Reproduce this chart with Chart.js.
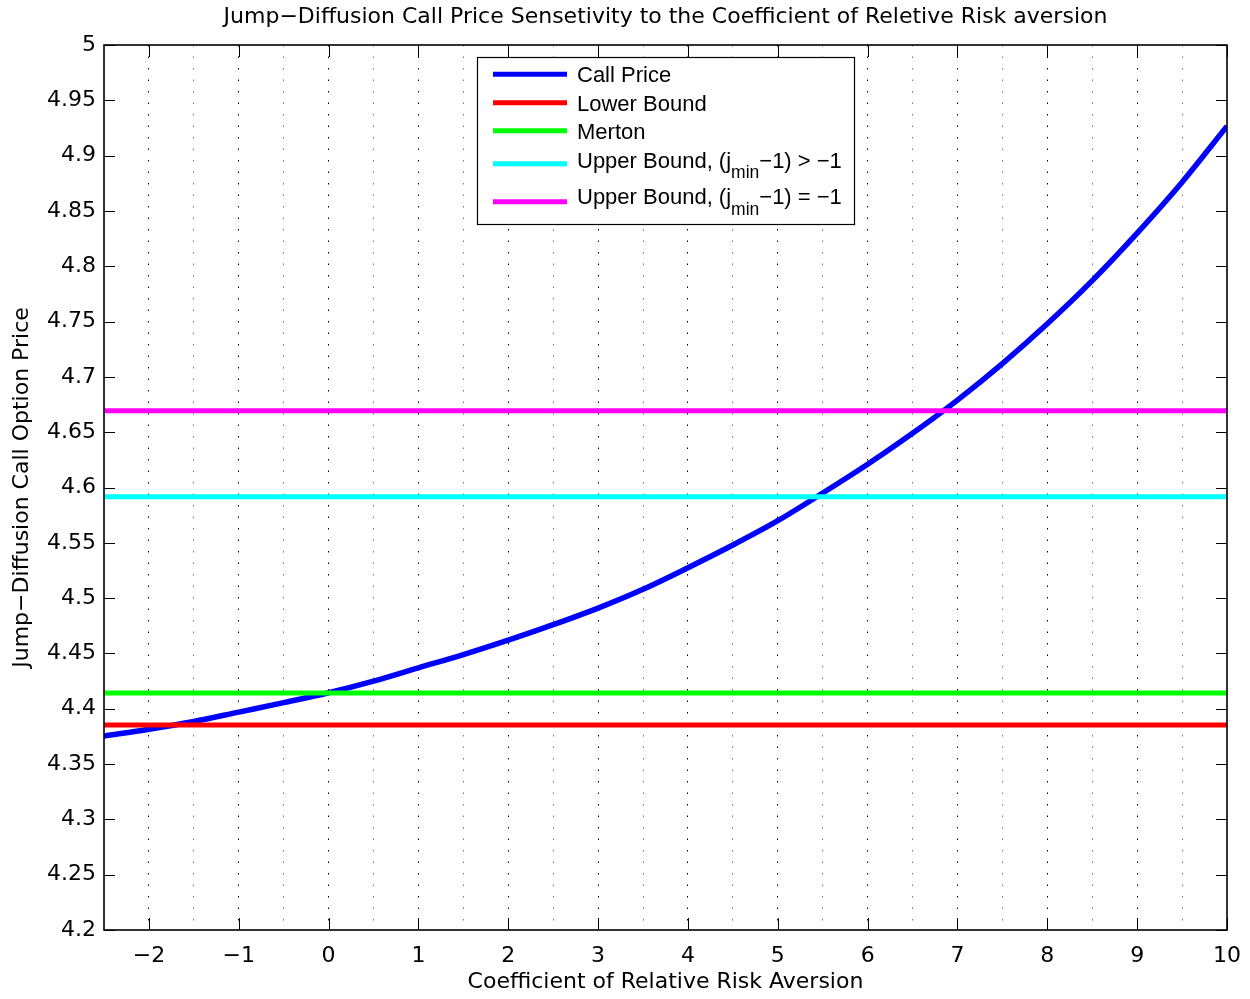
<!DOCTYPE html>
<html>
<head>
<meta charset="utf-8">
<script src="https://cdn.jsdelivr.net/npm/chart.js@4.4.1/dist/chart.umd.min.js"></script>
<style>
html,body{margin:0;padding:0;background:#fff;}
#wrap{width:1250px;height:999px;}
</style>
</head>
<body>
<div id="wrap"><canvas id="c" width="1250" height="999"></canvas></div>
<script>
// ---- data ----
const riskAversion = [-2.5,-2,-1.5,-1,-0.5,0,0.5,1,1.5,2,2.5,3,3.5,4,4.5,5,5.5,6,6.5,7,7.5,8,8.5,9,9.5,10];
const callPrice = [4.3753,4.3815,4.3885,4.3970,4.4055,4.4145,4.4250,4.4370,4.4490,4.4620,4.4760,4.4910,4.5080,4.5275,4.5480,4.5700,4.5950,4.6210,4.6490,4.6790,4.7120,4.7480,4.7870,4.8300,4.8760,4.9266];
const lowerBound = 4.3853;
const mertonPrice = 4.4142;
const upperBoundGt = 4.5916;
const upperBoundEq = 4.6693;
const xLimits = [-2.5, 10];
const yLimits = [4.2, 5];
const xStep = 0.5;
const yStep = 0.05;
const seriesNames = [
  ['Call Price'],
  ['Lower Bound'],
  ['Merton'],
  ['Upper Bound, (j', 'min', '\u22121) > \u22121'],
  ['Upper Bound, (j', 'min', '\u22121) = \u22121']
];
const seriesColors = ['#0000ff', '#ff0000', '#00ff00', '#00ffff', '#ff00ff'];
const titleText = 'Jump\u2212Diffusion Call Price Sensetivity to the Coefficient of Reletive Risk aversion';
const xTitle = 'Coefficient of Relative Risk Aversion';
const yTitle = 'Jump\u2212Diffusion Call Option Price';

const FONT = "'DejaVu Sans', 'Liberation Sans', sans-serif";
const LEGEND_FONT = "'Liberation Sans', Arial, sans-serif";
const fmt = v => String(+(+v).toFixed(2)).replace('-', '\u2212');

const flat = v => xLimits.map(x => ({x, y: v}));
const curve = riskAversion.map((x, i) => ({x, y: callPrice[i]}));
const flatValues = [lowerBound, mertonPrice, upperBoundGt, upperBoundEq];

const datasets = [
  {data: curve, borderColor: seriesColors[0], borderWidth: 5.5, order: 10, cubicInterpolationMode: 'monotone'},
  ...flatValues.map((v, i) => ({data: flat(v), borderColor: seriesColors[i + 1], borderWidth: 5, order: 5 - i}))
];
datasets.forEach((d, i) => { d.label = seriesNames[i].join(''); d.pointRadius = 0; d.fill = false; });

const matlabAxes = {
  id: 'matlabAxes',
  afterDatasetsDraw(chart) {
    const {ctx, chartArea: a, scales: {x, y}} = chart;
    ctx.save();
    ctx.strokeStyle = '#000';
    ctx.lineWidth = 1;
    const seg = (x1, y1, x2, y2) => { ctx.beginPath(); ctx.moveTo(x1, y1); ctx.lineTo(x2, y2); ctx.stroke(); };
    x.ticks.forEach(t => {
      if (!Number.isInteger(t.value)) return;
      const px = Math.round(x.getPixelForValue(t.value)) + 0.5;
      seg(px, a.bottom, px, a.bottom - 12);
      seg(px, a.top, px, a.top + 12);
    });
    y.ticks.forEach(t => {
      const py = Math.round(y.getPixelForValue(t.value)) + 0.5;
      seg(a.left, py, a.left + 11, py);
      seg(a.right, py, a.right - 11, py);
    });
    ctx.lineWidth = 1.6;
    ctx.strokeRect(a.left, a.top, a.right - a.left, a.bottom - a.top);
    ctx.restore();
  },
  afterDraw(chart) {
    const ctx = chart.ctx;
    const a = chart.chartArea;
    ctx.save();
    // title, centred over the axes like MATLAB
    ctx.fillStyle = '#000';
    ctx.font = '22px ' + FONT;
    ctx.textAlign = 'center';
    ctx.textBaseline = 'middle';
    ctx.fillText(titleText, (a.left + a.right) / 2, 17.5);

    // legend box
    const box = {l: 477, t: 57, r: 854, b: 224};
    const lineY = [74.3, 102.7, 130.7, 163.7, 201.7];
    const baseY = [82.3, 110.5, 138.7, 168.3, 204];
    const subY = [0, 0, 0, 178.3, 215];
    ctx.fillStyle = '#fff';
    ctx.fillRect(box.l, box.t, box.r - box.l, box.b - box.t);
    ctx.strokeStyle = '#000';
    ctx.lineWidth = 1.2;
    ctx.strokeRect(box.l + 0.5, box.t + 0.5, box.r - box.l, box.b - box.t);
    seriesNames.forEach((parts, i) => {
      ctx.strokeStyle = seriesColors[i];
      ctx.lineWidth = 5;
      ctx.beginPath(); ctx.moveTo(493, lineY[i]); ctx.lineTo(567, lineY[i]); ctx.stroke();
      ctx.fillStyle = '#000';
      ctx.textAlign = 'left';
      ctx.textBaseline = 'alphabetic';
      let xx = 577;
      parts.forEach((p, k) => {
        const sub = k === 1;
        ctx.font = (sub ? '17.5px ' : '22px ') + LEGEND_FONT;
        ctx.fillText(p, xx, sub ? subY[i] : baseY[i]);
        xx += ctx.measureText(p).width;
      });
    });
    ctx.restore();
  }
};

new Chart(document.getElementById('c'), {
  type: 'line',
  data: {datasets},
  plugins: [matlabAxes],
  options: {
    responsive: false,
    animation: false,
    devicePixelRatio: 1,
    layout: {padding: {left: 0, right: 23, top: 45, bottom: 0}},
    elements: {line: {tension: 0}},
    plugins: {
      legend: {display: false},
      tooltip: {enabled: false},
      title: {display: false}
    },
    scales: {
      x: {
        type: 'linear', min: xLimits[0], max: xLimits[1],
        afterFit: s => { s.height = 69; s.paddingLeft = 0; s.paddingRight = 0; },
        ticks: {
          stepSize: xStep, autoSkip: false, maxRotation: 0, color: '#000', padding: 13,
          font: {family: FONT, size: 22},
          callback: v => Number.isInteger(v) ? fmt(v) : ''
        },
        grid: {
          drawTicks: false, lineWidth: 1,
          color: c => {
            const v = c.tick ? c.tick.value : null;
            if (v === xLimits[0] || v === xLimits[1]) return 'rgba(0,0,0,0)';
            return Number.isInteger(v) ? '#000' : '#777';
          }
        },
        border: {display: false, dash: [1.5, 10]},
        title: {display: true, text: xTitle, color: '#000', font: {family: FONT, size: 22}, padding: {top: 0, bottom: 4}}
      },
      y: {
        type: 'linear', min: yLimits[0], max: yLimits[1],
        afterFit: s => { s.width = 104; s.paddingTop = 0; s.paddingBottom = 0; },
        ticks: {
          stepSize: yStep, autoSkip: false, color: '#000', padding: 8,
          font: {family: FONT, size: 22},
          callback: v => fmt(v)
        },
        grid: {display: false, drawTicks: false},
        border: {display: false},
        title: {display: true, text: yTitle, color: '#000', font: {family: FONT, size: 22}, padding: {top: 9, bottom: 0}}
      }
    }
  }
});
</script>
</body>
</html>
